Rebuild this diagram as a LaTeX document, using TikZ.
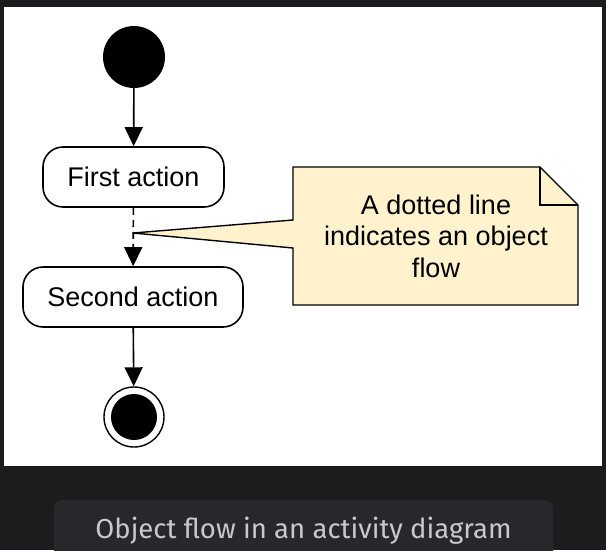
\documentclass[tikz,border=0pt]{standalone}
\usepackage{fontspec}
\setmainfont{Liberation Sans}
\newfontfamily\capfont{Fira Sans}
\usetikzlibrary{arrows.meta}
\definecolor{pagebg}{HTML}{1C1C1E}
\definecolor{capbg}{HTML}{27282C}
\definecolor{captext}{HTML}{C8C9CD}
\definecolor{notefill}{HTML}{FFF2CC}
\tikzset{
  actbox/.style={draw=black, line width=1.6pt, fill=white, rounded corners=20pt,
    minimum height=60pt, inner sep=0pt, font=\fontsize{27}{32}\selectfont},
  flow/.style={line width=1.6pt, -{Triangle[width=18pt,length=19pt]}},
  objflow/.style={flow, dash pattern=on 7pt off 5pt},
}
\begin{document}
\begin{tikzpicture}[x=1pt,y=-1pt]
\useasboundingbox (0,0) rectangle (606,550);
\fill[pagebg] (0,0) rectangle (606,550);
\fill[white] (4,7) rectangle (602,466);
% caption
\fill[capbg, rounded corners=8pt] (54,500) rectangle (553,562);
\node[text=captext, font=\capfont\fontsize{27.5}{32}\selectfont, anchor=base] (cap) at (303.5,538) {Object flow in an activity diagram};
% nodes
\node[circle, fill=black, minimum size=62pt, inner sep=0pt] (start) at (134,57) {};
\node[actbox, minimum width=181pt] (first) at (133.5,177) {First action};
\node[actbox, minimum width=220pt] (second) at (133,297) {Second action};
\node[circle, draw=black, line width=1.4pt, fill=white, minimum size=60pt, inner sep=0pt] (endo) at (134,417) {};
\node[circle, fill=black, minimum size=46pt, inner sep=0pt] (endi) at (endo) {};
% connectors
\draw[flow] (start) -- (first);
\draw[objflow] (first) -- (second);
\draw[flow] (second) -- (endo);
% callout
\coordinate (tip) at (133,233);
\draw[line width=1.4pt, fill=notefill, line join=miter]
  (293,167) -- (540,167) -- (578,205) -- (578,305) -- (293,305) -- (293,248) -- (tip) -- (293,220) -- cycle;
\draw[line width=1.4pt] (540,167) -- (540,205) -- (578,205);
\node[align=center, font=\fontsize{27}{31.5}\selectfont, inner sep=0pt] (note) at (436,236) {A dotted line\\indicates an object\\flow};
\end{tikzpicture}
\end{document}
